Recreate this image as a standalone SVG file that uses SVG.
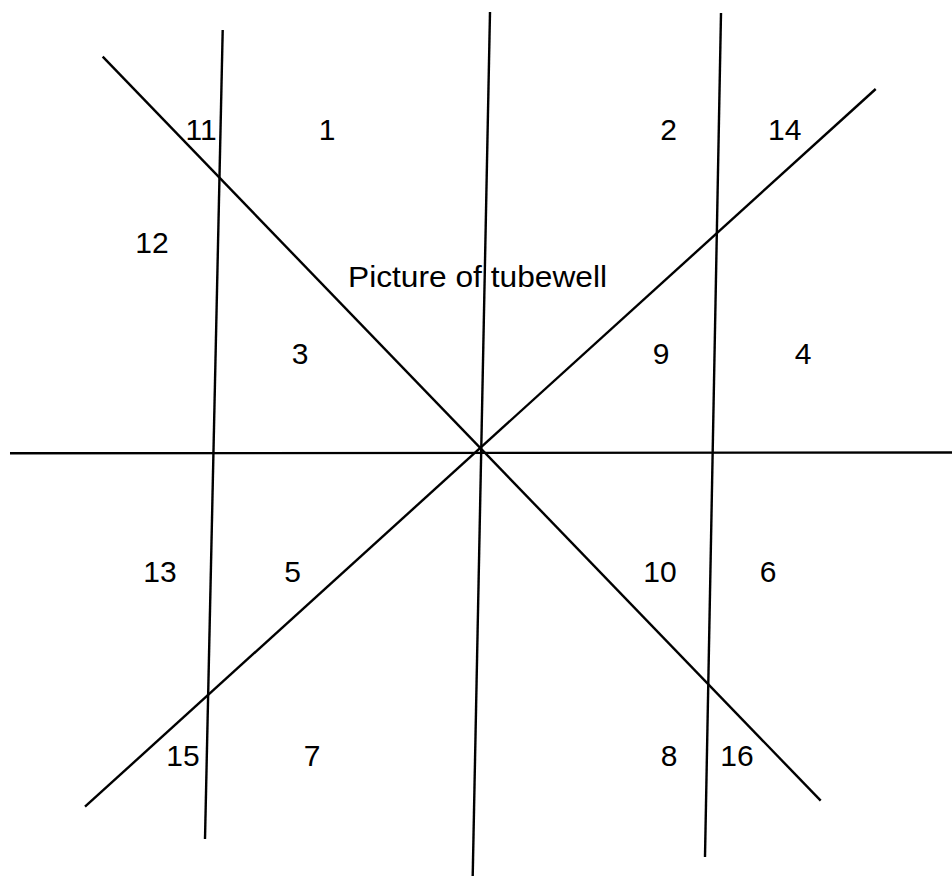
<svg xmlns="http://www.w3.org/2000/svg" width="952" height="876" viewBox="0 0 952 876">
<style>
.ln{stroke:#000;stroke-width:2.4;fill:none;stroke-linecap:butt}
.t{font-family:"Liberation Sans",Arial,sans-serif;font-size:30px;fill:#000;text-anchor:middle}
</style>
<rect width="952" height="876" fill="#fff"/>
<g id="lines">
<line class="ln" x1="222.7" y1="30" x2="205" y2="839"/>
<line class="ln" x1="490" y1="12" x2="472.7" y2="876"/>
<line class="ln" x1="721" y1="13" x2="705" y2="857"/>
<line class="ln" x1="10" y1="453.3" x2="952" y2="452.5"/>
<line class="ln" x1="102.7" y1="56.7" x2="820.7" y2="800.7"/>
<line class="ln" x1="875.7" y1="89" x2="85" y2="806.7"/>
</g>
<g id="labels">
<text class="t" x="201" y="140">11</text>
<text class="t" x="327" y="140">1</text>
<text class="t" x="668.7" y="140">2</text>
<text class="t" x="784.7" y="140">14</text>
<text class="t" x="152" y="253">12</text>
<text class="t" x="348" y="287" style="text-anchor:start" textLength="259" lengthAdjust="spacingAndGlyphs">Picture of tubewell</text>
<text class="t" x="300" y="364">3</text>
<text class="t" x="661" y="364">9</text>
<text class="t" x="803" y="364">4</text>
<text class="t" x="160" y="582">13</text>
<text class="t" x="292.5" y="582">5</text>
<text class="t" x="660" y="582">10</text>
<text class="t" x="768" y="582">6</text>
<text class="t" x="183" y="766">15</text>
<text class="t" x="312" y="766">7</text>
<text class="t" x="669" y="766">8</text>
<text class="t" x="737" y="766">16</text>
</g>
</svg>
